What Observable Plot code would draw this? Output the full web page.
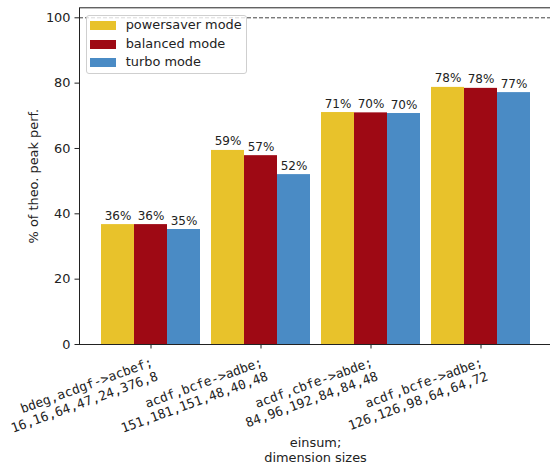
<!DOCTYPE html>
<html>
<head>
<meta charset="utf-8">
<script src="https://cdn.jsdelivr.net/npm/d3@7"></script>
<script src="https://cdn.jsdelivr.net/npm/@observablehq/plot@0.6"></script>
<style>
  html, body { margin: 0; padding: 0; background: #fff; }
  #chart { position: relative; width: 550px; height: 463px; font-family: "DejaVu Sans", sans-serif; color: #222; }
  #chart svg { display: block; overflow: hidden; }
  .legend { position: absolute; left: 85.5px; top: 14.5px; width: 161.5px; height: 59px; box-sizing: border-box;
            border: 1px solid #cfcfcf; border-radius: 3px; background: rgba(255,255,255,0.8); }
  .legend .row { position: absolute; left: 3.5px; height: 18.7px; display: flex; align-items: center;
                 font-size: 12.9px; line-height: 1; white-space: nowrap; }
  .legend .sw { width: 25.7px; height: 9px; margin-right: 10px; flex: none; }
</style>
</head>
<body>
<div id="chart"></div>
<script>
// einsum contractions (first line) and their dimension sizes (second line)
const groups = [
  "bdeg,acdgf->acbef;\n16,16,64,47,24,376,8",
  "acdf,bcfe->adbe;\n151,181,151,48,40,48",
  "acdf,cbfe->abde;\n84,96,192,84,84,48",
  "acdf,bcfe->adbe;\n126,126,98,64,64,72"
];
const modes = ["powersaver mode", "balanced mode", "turbo mode"];
const modeColors = ["#e8c22b", "#9e0914", "#4a8bc5"];

// share of theoretical peak performance, in percent
const powersaver = [36.7, 59.4, 71.0, 78.7];
const balanced   = [36.7, 57.8, 70.9, 78.4];
const turbo      = [35.2, 52.0, 70.7, 77.1];

const yTicks = [0, 20, 40, 60, 80, 100];
const peakLevel = 100;
const yMax = 103.06;
const xLabel = "einsum;\ndimension sizes";
const yLabel = "% of theo. peak perf.";

const series = [powersaver, balanced, turbo];
const table = modes.flatMap((mode, i) =>
  groups.map((group, j) => ({group, mode, value: series[i][j]}))
);

// layout
const W = 550, H = 463;
const margin = {top: 7.3, right: -1, bottom: 119, left: 79};
const padInner = 0.1, padOuter = 0.195;
const band = d3.scaleBand(groups, [margin.left, W - margin.right])
  .paddingInner(padInner).paddingOuter(padOuter).align(0.5);
const sub = band.bandwidth() / modes.length;
const fs = 12.9;
const labelFs = 12;
const tick = 4.5;

const barMarks = modes.flatMap((mode, i) => {
  const rows = table.filter(d => d.mode === mode);
  return [
    Plot.barY(rows, {
      x: "group", y: "value", fill: modeColors[i],
      insetLeft: i * sub, insetRight: (modes.length - 1 - i) * sub
    }),
    Plot.text(rows, {
      x: "group", y: "value", text: d => `${Math.floor(d.value)}%`,
      dx: (i - (modes.length - 1) / 2) * sub, dy: -5,
      lineAnchor: "bottom", textAnchor: "middle", fontSize: labelFs, fill: "#222"
    })
  ];
});

const chart = Plot.plot({
  width: W,
  height: H,
  marginTop: margin.top,
  marginRight: margin.right,
  marginBottom: margin.bottom,
  marginLeft: margin.left,
  style: {fontFamily: "DejaVu Sans", fontSize: fs + "px", color: "#222", background: "transparent"},
  x: {type: "band", domain: groups, paddingInner: padInner, paddingOuter: padOuter, align: 0.5, axis: null},
  y: {domain: [0, yMax], axis: null},
  marks: [
    Plot.ruleY([peakLevel], {stroke: "#444", strokeWidth: 1, strokeDasharray: "4,2"}),
    ...barMarks,
    Plot.frame({stroke: "#222", strokeWidth: 1}),
    Plot.axisY({ticks: yTicks, tickSize: tick, tickPadding: tick, label: null, fontSize: fs}),
    Plot.axisX({tickSize: tick, tickFormat: () => "", label: null}),
    Plot.text(groups, {
      x: d => d, frameAnchor: "bottom", text: d => d,
      rotate: -20, textAnchor: "end", lineAnchor: "top",
      fontFamily: "DejaVu Sans Mono", fontSize: fs, lineHeight: 1.17,
      dx: -1, dy: 11, fill: "#222"
    }),
    Plot.text([xLabel], {
      frameAnchor: "bottom", text: d => d, textAnchor: "middle", lineAnchor: "bottom",
      lineHeight: 1.1, dy: 117, fontSize: fs, fill: "#222"
    }),
    Plot.text([yLabel], {
      frameAnchor: "left", text: d => d, rotate: -90, textAnchor: "middle", lineAnchor: "middle",
      dx: -46, fontSize: fs, fill: "#222"
    })
  ]
});

const root = document.getElementById("chart");
root.appendChild(chart);

// legend box in the upper-left corner of the axes
const legend = document.createElement("div");
legend.className = "legend";
modes.forEach((mode, i) => {
  const row = document.createElement("div");
  row.className = "row";
  row.style.top = (0.7 + i * 18.65) + "px";
  const sw = document.createElement("span");
  sw.className = "sw";
  sw.style.background = modeColors[i];
  const label = document.createElement("span");
  label.textContent = mode;
  row.append(sw, label);
  legend.appendChild(row);
});
root.appendChild(legend);
</script>
</body>
</html>
